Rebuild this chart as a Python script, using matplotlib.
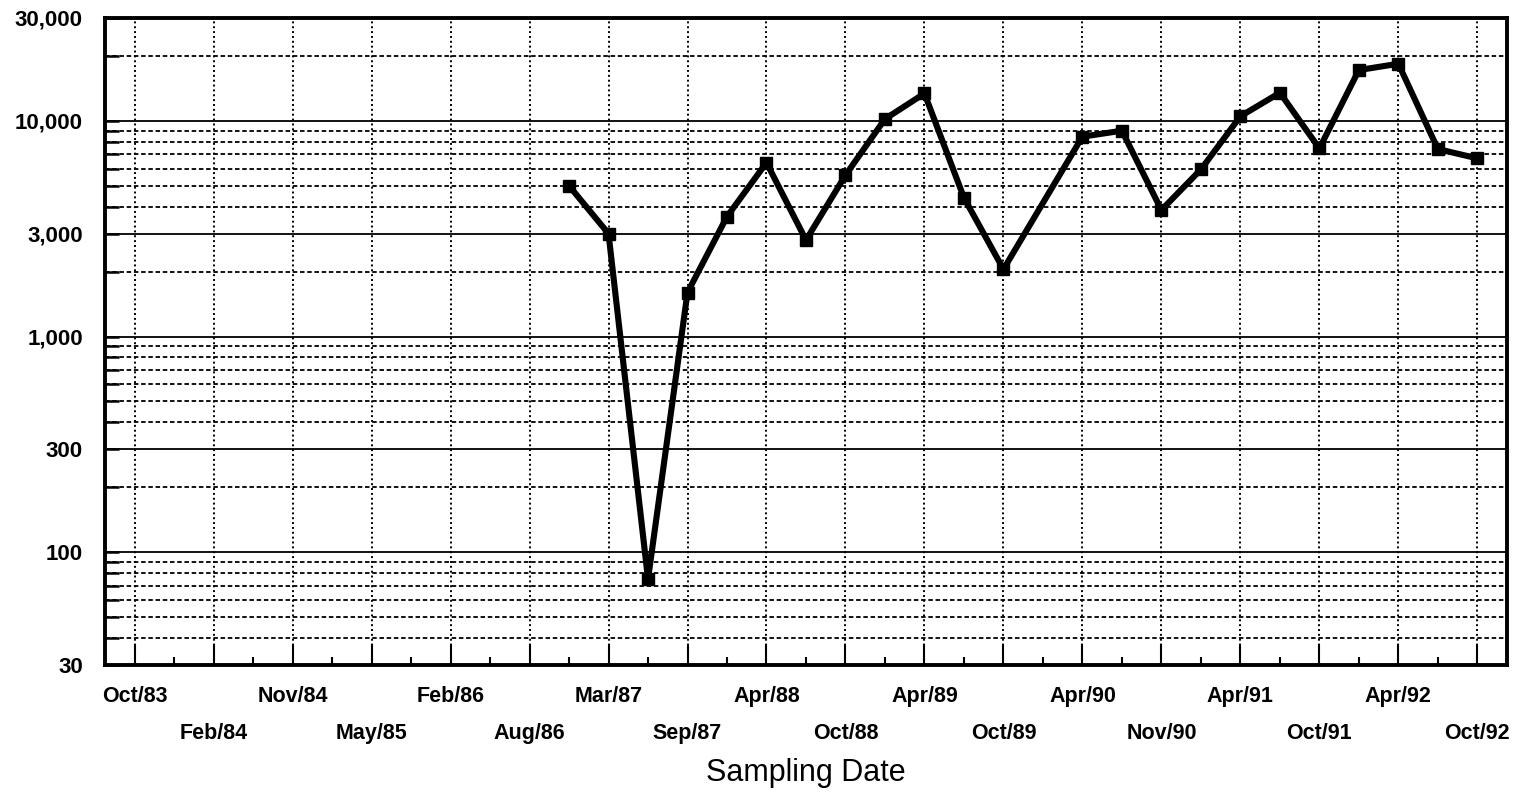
import numpy as np
import matplotlib.pyplot as plt
from matplotlib.ticker import FixedLocator, NullFormatter

plt.rcParams['font.family'] = ['Liberation Sans', 'DejaVu Sans']

# labelled sampling dates, one on every second slot of the x axis
date_labels = ['Oct/83', 'Feb/84', 'Nov/84', 'May/85', 'Feb/86', 'Aug/86',
               'Mar/87', 'Sep/87', 'Apr/88', 'Oct/88', 'Apr/89', 'Oct/89',
               'Apr/90', 'Nov/90', 'Apr/91', 'Oct/91', 'Apr/92', 'Oct/92']
n_slots = 35

# slot index of each sample and its measured value
sample_slot = [11, 12, 13, 14, 15, 16, 17, 18, 19, 20, 21, 22,
               24, 25, 26, 27, 28, 29, 30, 31, 32, 33, 34]
sample_value = [5000, 3000, 75, 1600, 3600, 6400, 2800, 5600, 10200, 13400, 4400, 2050,
                8450, 9000, 3860, 5950, 10500, 13500, 7450, 17200, 18400, 7400, 6700]

y_labels = [30, 100, 300, 1000, 3000, 10000, 30000]
y_solid = [100, 300, 1000, 3000, 10000]
y_dotted = [40, 50, 60, 70, 80, 90, 200, 400, 500, 600, 700, 800, 900,
            2000, 4000, 5000, 6000, 7000, 8000, 9000, 20000]

fig = plt.figure(figsize=(15.15, 7.98), dpi=100)
ax = fig.add_axes([0.0693, 0.1667, 0.9254, 0.8108])

ax.set_yscale('log')
ax.set_ylim(30, 30000)
ax.set_xlim(-0.75, n_slots - 0.25)

# grid: solid at 1 and 3 of each decade, dotted elsewhere
for v in y_solid:
    ax.axhline(v, color='black', lw=1.3, zorder=1)
for v in y_dotted:
    ax.axhline(v, color='black', lw=1.3, ls=(0, (2.5, 1.5)), zorder=1)

major_x = list(range(0, n_slots, 2))
minor_x = list(range(1, n_slots, 2))
for x in major_x:
    ax.axvline(x, color='black', lw=1.4, ls=(0, (1, 1.5)), zorder=1)

ax.plot(sample_slot, sample_value, color='black', lw=4.4,
        marker='s', ms=9, zorder=5)

# y axis
ax.yaxis.set_major_locator(FixedLocator(y_labels))
ax.set_yticklabels([f'{v:,}' for v in y_labels])
ax.yaxis.set_minor_locator(FixedLocator(y_dotted))
ax.yaxis.set_minor_formatter(NullFormatter())
ax.tick_params(axis='y', which='both', direction='in', length=10, width=1.8,
               pad=16, labelsize=16)

# x axis, labels alternate between two rows
ax.xaxis.set_major_locator(FixedLocator(major_x))
ax.xaxis.set_minor_locator(FixedLocator(minor_x))
ax.xaxis.set_minor_formatter(NullFormatter())
ax.set_xticklabels([lab if i % 2 == 0 else '\n' + lab
                    for i, lab in enumerate(date_labels)])
ax.tick_params(axis='x', which='major', direction='in', length=15, width=1.5,
               pad=15, labelsize=15.5)
ax.tick_params(axis='x', which='minor', direction='in', length=6, width=1.5)
for lbl in ax.get_xticklabels():
    lbl.set_fontweight('bold')
    lbl.set_linespacing(2.0)
for lbl in ax.get_yticklabels():
    lbl.set_fontweight('bold')

ax.set_xlabel('Sampling Date', fontsize=22, labelpad=10)

for sp in ax.spines.values():
    sp.set_linewidth(2.8)
    sp.set_zorder(6)

fig.savefig('out.png', dpi=100)
